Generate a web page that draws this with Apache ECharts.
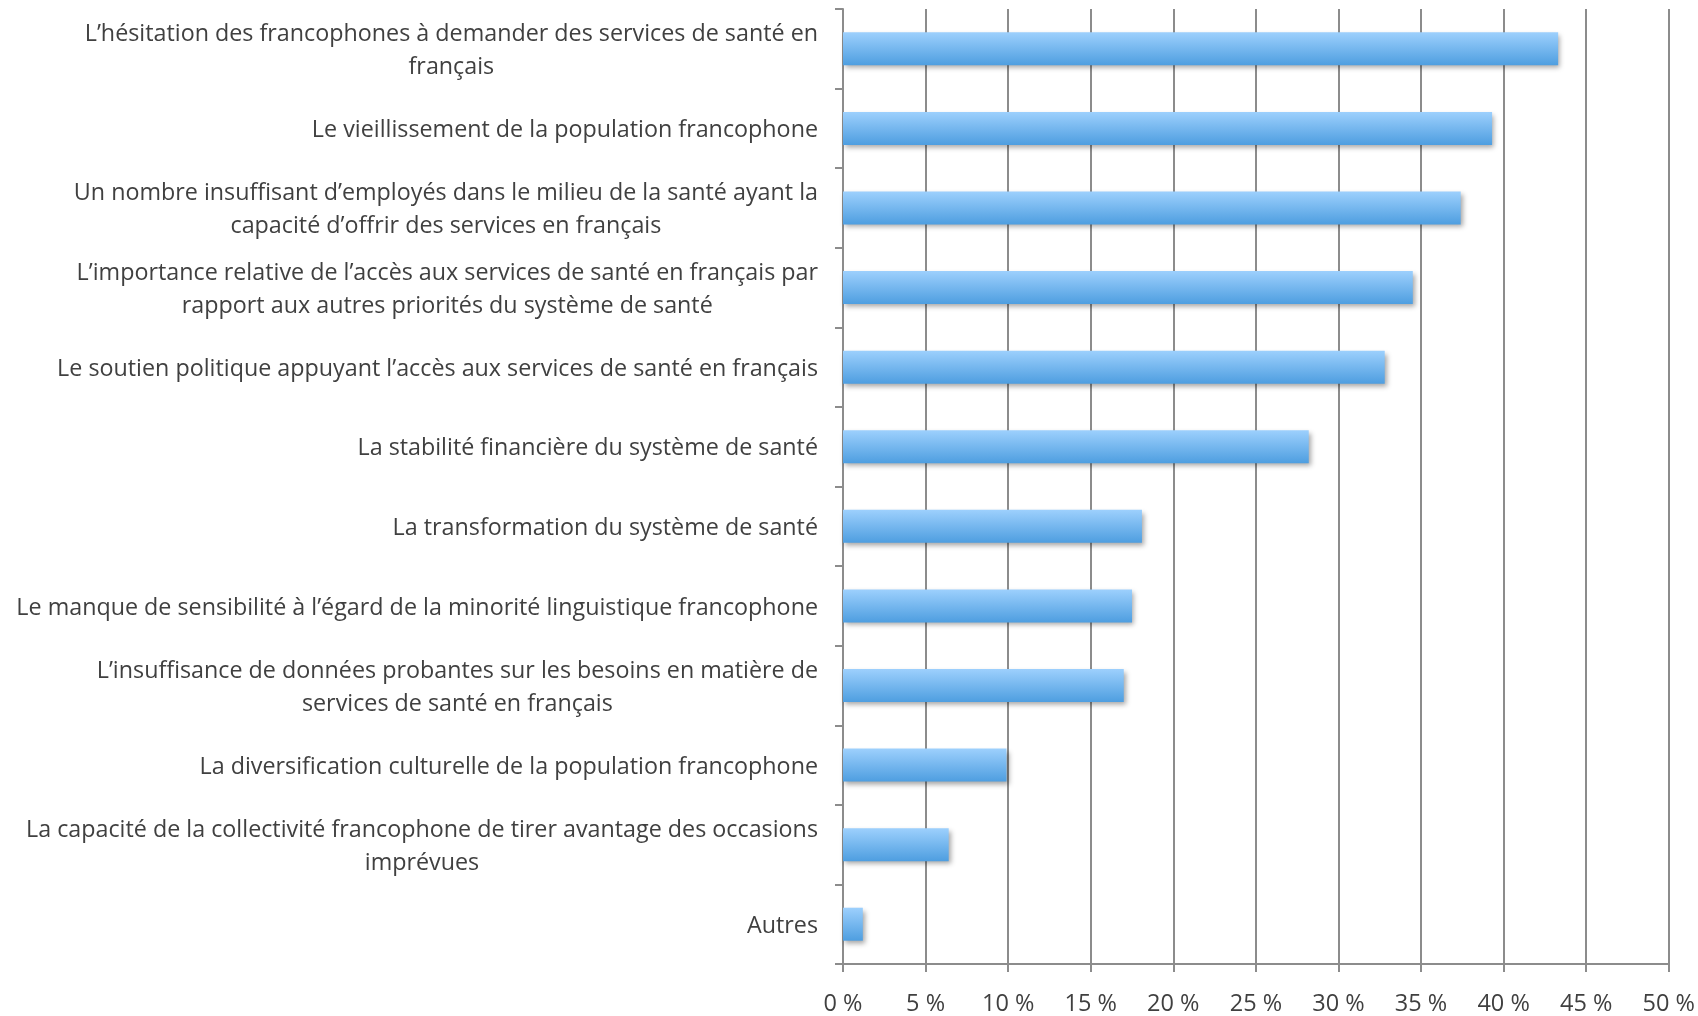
<!DOCTYPE html>
<html>
<head>
<meta charset="utf-8">
<style>
  html, body { margin: 0; padding: 0; background: #fff; }
  #chart { width: 1698px; height: 1016px; }
</style>
<script src="https://cdn.jsdelivr.net/npm/echarts@6/dist/echarts.min.js"></script>
</head>
<body>
<div id="chart"></div>
<script>
// catégories (de haut en bas)
const categories = [
  "L\u2019hésitation des francophones à demander des services de santé en\nfrançais",
  "Le vieillissement de la population francophone",
  "Un nombre insuffisant d\u2019employés dans le milieu de la santé ayant la\ncapacité d\u2019offrir des services en français",
  "L\u2019importance relative de l\u2019accès aux services de santé en français par\nrapport aux autres priorités du système de santé",
  "Le soutien politique appuyant l\u2019accès aux services de santé en français",
  "La stabilité financière du système de santé",
  "La transformation du système de santé",
  "Le manque de sensibilité à l\u2019égard de la minorité linguistique francophone",
  "L\u2019insuffisance de données probantes sur les besoins en matière de\nservices de santé en français",
  "La diversification culturelle de la population francophone",
  "La capacité de la collectivité francophone de tirer avantage des occasions\nimprévues",
  "Autres"
];

// pourcentages
const values = [43.3, 39.3, 37.4, 34.5, 32.8, 28.2, 18.1, 17.5, 17.0, 9.9, 6.4, 1.2];

const axisMin = 0;
const axisMax = 50;
const axisStep = 5;

const chart = echarts.init(document.getElementById("chart"), null, { renderer: "canvas" });

// chaque ligne centrée dans le bloc, bloc aligné à droite
function centerLines(txt) {
  return txt.split("\n").map(l => "{c|" + l + "}").join("\n");
}

const option = {
  animation: false,
  grid: { left: 843, right: 29, top: 9, bottom: 47, containLabel: false },
  xAxis: {
    type: "value",
    min: axisMin,
    max: axisMax,
    interval: axisStep,
    axisLine: { show: true, lineStyle: { color: "#8c8c8c", width: 2 } },
    axisTick: { show: true, length: 8, lineStyle: { color: "#8c8c8c", width: 2 } },
    splitLine: { show: true, lineStyle: { color: "#8c8c8c", width: 2 } },
    axisLabel: {
      formatter: v => v + " %",
      color: "#404040",
      fontFamily: "Open Sans",
      fontSize: 23.5,
      margin: 28
    }
  },
  yAxis: {
    type: "category",
    inverse: true,
    data: categories,
    axisLine: { show: true, lineStyle: { color: "#8c8c8c", width: 2 } },
    axisTick: { show: true, length: 8, lineStyle: { color: "#8c8c8c", width: 2 } },
    axisLabel: {
      formatter: centerLines,
      align: "right",
      margin: 25,
      padding: [4, 0, 0, 0],
      rich: {
        c: {
          align: "center",
          color: "#404040",
          fontFamily: "Open Sans",
          fontSize: 23.3,
          lineHeight: 33
        }
      }
    }
  },
  series: [{
    type: "bar",
    data: values,
    barWidth: 33,
    itemStyle: {
      color: new echarts.graphic.LinearGradient(0, 0, 0, 1, [
        { offset: 0, color: "#9dd0fd" },
        { offset: 1, color: "#4e9ee0" }
      ]),
      shadowColor: "rgba(0,0,0,0.35)",
      shadowBlur: 5,
      shadowOffsetX: 2,
      shadowOffsetY: 3
    }
  }]
};

chart.setOption(option);
</script>
</body>
</html>
